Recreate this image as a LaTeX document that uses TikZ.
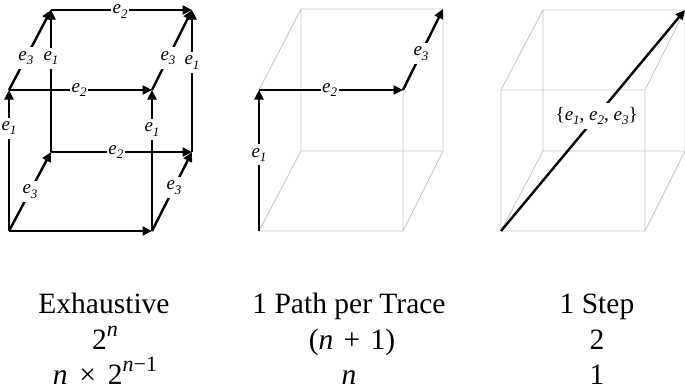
\documentclass[tikz,border=0pt]{standalone}
\usepackage{fontspec}
\setmainfont{Liberation Serif}
\usetikzlibrary{arrows.meta}
\newcommand{\ee}[1]{\textit{e}\raisebox{-0.22em}{\fontsize{13}{15}\selectfont\textit{#1}}}
\tikzset{
  x=1pt,y=-1pt,
  arr/.style={line width=2.4pt,black,-{Triangle[length=9.5pt,width=9pt]}},
  faint/.style={line width=0.9pt,black!22},
  lab/.style={fill=white,inner xsep=1.5pt,inner ysep=4pt,font=\fontsize{19}{21}\selectfont},
  toplab/.style={lab,inner ysep=0.5pt,yshift=-1.5pt},
  captxt/.style={anchor=base,inner sep=0pt,font=\fontsize{29.5}{33}\selectfont}
}
\begin{document}
\begin{tikzpicture}
\useasboundingbox (0,0) rectangle (685,391);
% cube 1
\coordinate (a1) at (9,231); \coordinate (a2) at (152,231);
\coordinate (a3) at (9,90); \coordinate (a4) at (152,90);
\coordinate (a5) at (51,152); \coordinate (a6) at (192,152);
\coordinate (a7) at (51,10); \coordinate (a8) at (192,10);
\draw[arr] (a1) -- (a2);
\draw[arr] (a5) -- node[lab,pos=.46]{\ee{2}} (a6);
\draw[arr] (a3) -- node[lab,pos=.49]{\ee{2}} (a4);
\draw[arr] (a7) -- node[toplab,pos=.49]{\ee{2}} (a8);
\draw[arr] (a1) -- node[lab,pos=.5]{\ee{3}} (a5);
\draw[arr] (a2) -- node[lab,pos=.55]{\ee{3}} (a6);
\draw[arr] (a3) -- node[lab,pos=.4]{\ee{3}} (a7);
\draw[arr] (a4) -- node[lab,pos=.4]{\ee{3}} (a8);
\draw[arr] (a1) -- node[lab,pos=.73]{\ee{1}} (a3);
\draw[arr] (a2) -- node[lab,pos=.72]{\ee{1}} (a4);
\draw[arr] (a5) -- node[lab,pos=.66]{\ee{1}} (a7);
\draw[arr] (a6) -- node[lab,pos=.63]{\ee{1}} (a8);
% cube 2
\coordinate (b1) at (259,231); \coordinate (b2) at (403,231);
\coordinate (b3) at (259,90); \coordinate (b4) at (403,90);
\coordinate (b5) at (301,151); \coordinate (b6) at (443,151);
\coordinate (b7) at (301,9); \coordinate (b8) at (443,9);
\draw[faint] (b1)--(b2)--(b4)--(b3)--cycle (b5)--(b6)--(b8)--(b7)--cycle
  (b1)--(b5) (b2)--(b6) (b3)--(b7) (b4)--(b8);
\draw[arr] (b1) -- node[lab,pos=.54]{\ee{1}} (b3);
\draw[arr] (b3) -- node[lab,pos=.49]{\ee{2}} (b4);
\draw[arr] (b4) -- node[lab,pos=.45]{\ee{3}} (b8);
% cube 3
\coordinate (c1) at (501,231); \coordinate (c2) at (645,231);
\coordinate (c3) at (501,90); \coordinate (c4) at (645,90);
\coordinate (c5) at (543,151); \coordinate (c6) at (685,151);
\coordinate (c7) at (543,10); \coordinate (c8) at (685,10);
\draw[faint] (c1)--(c2)--(c4)--(c3)--cycle (c5)--(c6)--(c8)--(c7)--cycle
  (c1)--(c5) (c2)--(c6) (c3)--(c7) (c4)--(c8);
\draw[arr] (c1) -- node[lab,pos=.52]{\{\ee{1}, \ee{2}, \ee{3}\}} (c8);
% captions
\node[captxt] (t1) at (104,313) {Exhaustive};
\node[captxt] (t2) at (349,313) {1 Path per Trace};
\node[captxt] (t3) at (597,313) {1 Step};
\node[captxt] (m1) at (105,349) {2\raisebox{.42em}{\fontsize{22}{24}\selectfont\textit{n}}};
\node[captxt] (m2) at (352,349) {(\textit{n}\hspace{.1em} + \hspace{.1em}1)};
\node[captxt] (m3) at (597,349) {2};
\node[captxt] (b1t) at (105,384) {\textit{n}\hspace{.15em} × \hspace{.15em}2\raisebox{.42em}{\fontsize{22}{24}\selectfont\textit{n}−1}};
\node[captxt] (b2t) at (349,384) {\textit{n}};
\node[captxt] (b3t) at (597,384) {1};
\end{tikzpicture}
\end{document}
